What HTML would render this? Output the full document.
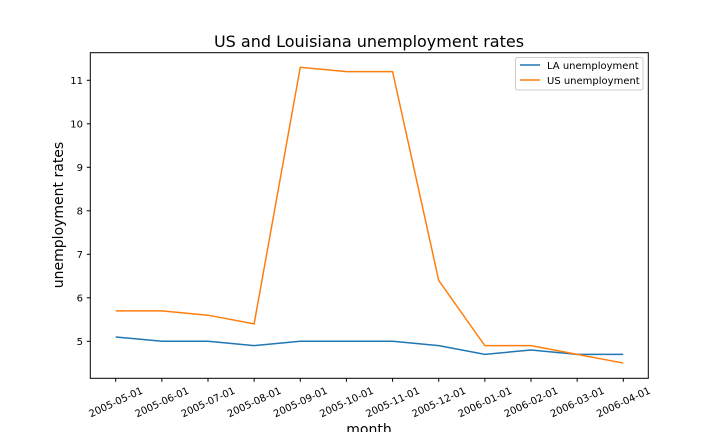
<!DOCTYPE html>
<html><head><meta charset="utf-8"><style>
body{margin:0;background:#fff}
svg{font-family:"DejaVu Sans","Liberation Sans",sans-serif}
</style></head><body>
<svg id="chart" width="720" height="432">
<text x="369" y="47" font-size="16" text-anchor="middle">US and Louisiana unemployment rates</text>
<g id="axes"></g>
<g id="series"></g>
<rect x="90.3" y="52.7" width="558" height="325.6" fill="none" stroke="#000" stroke-width="1"/>
<text x="369" y="434" font-size="14" text-anchor="middle">month</text>
<text transform="translate(63,215) rotate(-90)" font-size="14" text-anchor="middle">unemployment rates</text>
<g>
<rect x="515.5" y="57.5" width="127.5" height="32.5" fill="#fff" stroke="#ccc" rx="2"/>
<line x1="520" y1="65" x2="540" y2="65" stroke="#1f77b4" stroke-width="1.5"/>
<text x="547" y="69" font-size="10">LA unemployment</text>
<line x1="520" y1="80" x2="540" y2="80" stroke="#ff7f0e" stroke-width="1.5"/>
<text x="547" y="84" font-size="10">US unemployment</text>
</g>
</svg>
<script>
const months=["2005-05-01","2005-06-01","2005-07-01","2005-08-01","2005-09-01","2005-10-01","2005-11-01","2005-12-01","2006-01-01","2006-02-01","2006-03-01","2006-04-01"];
const laValues=[5.1,5.0,5.0,4.9,5.0,5.0,5.0,4.9,4.7,4.8,4.7,4.7];
const usValues=[5.7,5.7,5.6,5.4,11.3,11.2,11.2,6.4,4.9,4.9,4.7,4.5];
const yTicks=[5,6,7,8,9,10,11];
const NS="http://www.w3.org/2000/svg";
function xs(i){return 115.7+i*(623.3-115.7)/(months.length-1);}
function ys(v){return 341.3-(v-5)*43.5;}
const axes=document.getElementById('axes'),ser=document.getElementById('series');
function mk(t,a,p){const e=document.createElementNS(NS,t);for(const k in a)e.setAttribute(k,a[k]);p.appendChild(e);return e;}
months.forEach((m,i)=>{
 const x=xs(i);
 const t=mk('line',{x1:x,y1:378.3,x2:x,y2:381.8,stroke:'#000'},axes);
 
 
 const l=mk('text',{x:0,y:3.5,'font-size':10,'text-anchor':'middle',transform:`translate(${x},${402}) rotate(-25)`},axes);
 l.textContent=m;
 
 
});
yTicks.forEach(v=>{
 const y=ys(v);
 const t=mk('line',{x1:86.8,y1:y,x2:90.3,y2:y,stroke:'#000'},axes);
 
 
 const l=mk('text',{x:83,y:y+3.5,'font-size':10,'text-anchor':'end'},axes);
 l.textContent=v;
 
 
});
const la=mk('polyline',{points:laValues.map((v,i)=>xs(i)+','+ys(v)).join(' '),fill:'none',stroke:'#1f77b4','stroke-width':1.5},ser);


const us=mk('polyline',{points:usValues.map((v,i)=>xs(i)+','+ys(v)).join(' '),fill:'none',stroke:'#ff7f0e','stroke-width':1.5},ser);


</script>
</body></html>
